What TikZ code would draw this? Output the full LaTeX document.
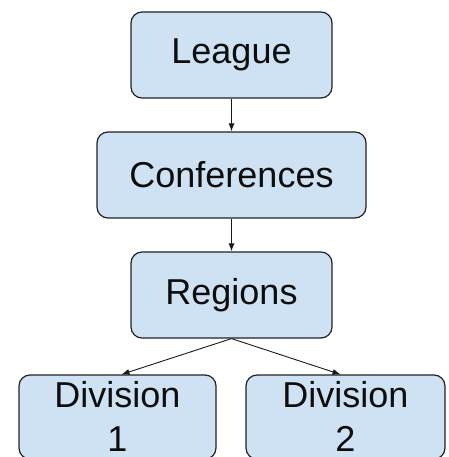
\documentclass[tikz,border=0pt]{standalone}
\usepackage{fontspec}
\setmainfont{Liberation Sans}
\usetikzlibrary{arrows.meta}
\definecolor{boxfill}{HTML}{CFE2F3}
\definecolor{boxline}{HTML}{222222}
\begin{document}
\begin{tikzpicture}[x=1pt,y=-1pt,
  box/.style={draw=boxline, line width=1.2pt, fill=boxfill, rounded corners=11pt,
    font=\fontsize{36}{44}\selectfont, text=black!95, inner sep=0pt, align=center},
  arr/.style={draw=black!90, line width=0.9pt, -{Latex[length=8pt,width=6pt]}}]
\useasboundingbox (0,0) rectangle (448,457);
\node[box, minimum width=201pt, minimum height=86pt] (lg) at (231.5,55) {League};
\node[box, minimum width=269pt, minimum height=86pt] (cf) at (231.5,175) {Conferences};
\node[box, minimum width=201pt, minimum height=86pt] (rg) at (231.5,295) {Regions};
\node[box, minimum width=197pt, minimum height=84pt, text depth=2pt] (d1) at (117.5,417) {Division\\1};
\node[box, minimum width=199pt, minimum height=84pt, text depth=2pt] (d2) at (345.5,417) {Division\\2};
\draw[arr] (lg.south) -- (cf.north);
\draw[arr] (cf.south) -- (rg.north);
\draw[arr] (rg.south) -- ([xshift=4pt]d1.north);
\draw[arr] (rg.south) -- ([xshift=-5pt]d2.north);
\end{tikzpicture}
\end{document}
